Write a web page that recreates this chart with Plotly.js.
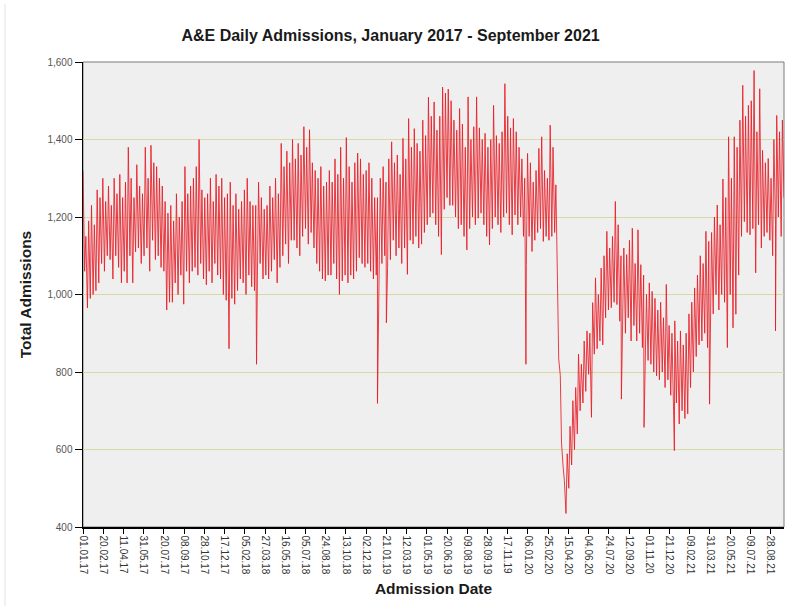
<!DOCTYPE html>
<html>
<head>
<meta charset="utf-8">
<script src="https://cdn.plot.ly/plotly-3.0.1.min.js"></script>
<style>html,body{margin:0;padding:0;background:#fff}#chart{width:812px;height:610px}</style>
</head>
<body>
<div id="chart"></div>
<script>
// Week starts from this date; each week has a peak (start of week) and a trough (4 days later)
const startDate = '2017-01-01';

const weeklyHigh = [
  // 2017
  1320,1150,1190,1230,1180, 1270,1250,1300,1240, 1280,1230,1300,1260, 1310,1250,1290,1380,
  1300,1250,1335,1280,1260, 1380,1300,1385,1340, 1330,1300,1280,1240,1210, 1230,1190,1260,1200,
  1240,1330,1260,1280, 1300,1330,1400,1270,1250, 1260,1300,1240,1310, 1280,1300,1250,1260,
  // 2018
  1290,1230,1260,1220,1240, 1270,1300,1240,1230, 1230,1290,1250,1220, 1230,1280,1250,1300,1260,
  1390,1330,1370,1340, 1400,1350,1390,1360, 1433,1380,1425,1340,1320, 1300,1330,1280,1290,
  1320,1290,1350,1310, 1380,1300,1405,1330,1290, 1340,1365,1350,1310, 1320,1340,1300,1250,
  // 2019
  1250,1300,1330,1290,1350, 1394,1340,1360,1310, 1403,1350,1454,1380, 1428,1390,1370,1450,1410,
  1509,1460,1497,1424, 1460,1535,1520,1530, 1500,1450,1424,1480,1440, 1380,1510,1400,1433,
  1510,1430,1400,1416, 1380,1400,1488,1410,1390, 1420,1544,1460,1430, 1454,1420,1380,1350,
  // 2020
  1300,1364,1340,1290,1320, 1377,1407,1320,1300, 1437,1380,1283,834,617,520, 589,660,726,760,
  846,820,880,906,900, 979,1043,1000,1068, 1100,1163,1120,1150,1240,1180,1100,
  1120,1103,1140,1171,1080,1167,1077,1050, 1000,1030,1008,990,960,980,940,1026,920,900,
  // 2021
  932,880,906,870,900,950, 980,1017,1050,1100,1080,1163,1137, 1160,1200,1231,1180,1298,1250,
  1407,1300,1407,1380, 1450,1540,1460,1488,1500,1578, 1420,1531,1372,1340,1351,1300,
  1400,1462,1420,1450
];

const weeklyLow = [
  // 2017
  1060,965,990,1000,1010, 1030,1080,1060,1100, 1090,1040,1100,1070, 1030,1060,1030,1100,
  1030,1110,1120,1080,1100, 1120,1060,1140,1090, 1100,1070,1060,960,980, 980,1030,1000,1050,
  975,1060,1030,1060, 1070,1050,1080,1040,1025, 1060,1030,1080,1050, 1040,1000,985,980,
  // 2018
  990,975,1010,1040,1030, 1000,1050,1020,1010, 1030,1080,1040,1050, 1040,1060,1090,1030,1070,
  1100,1130,1080,1140, 1140,1120,1100,1150, 1170,1130,1160,1120,1080, 1060,1040,1035,1050,
  1050,1080,1040,1000, 1035,1050,1030,1050,1040, 1060,1095,1080,1070, 1080,1060,1040,1050,
  // 2019
  1050,1080,1100,1070,1090, 1140,1100,1120,1080, 1120,1052,1140,1130, 1150,1120,1130,1160,1180,
  1200,1210,1180,1150, 1103,1220,1250,1230, 1230,1200,1170,1180,1150, 1115,1170,1200,1180,
  1197,1210,1180,1150, 1128,1170,1200,1180,1160, 1200,1210,1180,1154, 1205,1180,1200,1150,
  // 2020
  1077,1150,1111,1140,1160, 1170,1137,1150,1140, 1150,1160,1034,791,555,435, 500,560,600,640,
  700,720,750,794,683, 846,860,880,870, 940,960,966,980,974,931,950,
  900,940,880,920,880,900,863,860, 830,820,800,790,780,800,760,780,740,700,
  // 2021
  720,666,700,680,692,760, 800,840,870,880,900,863,900, 950,1000,960,1000,980,863,
  1000,914,949,1050, 1150,1188,1160,1154,1170,1056, 1180,1120,1150,1160,1140,1100,
  1180,1200,1150,1250
];

// Single-day dips (holidays, snow, etc.)
const dipDates  = ['2017-12-28','2018-03-06','2018-12-30','2019-01-21','2020-01-01','2020-08-24','2020-10-19','2021-01-02','2021-03-30','2021-09-09'];
const dipValues = [860, 820, 719, 927, 820, 730, 657, 597, 717, 906];

const tickDates = ['2017-01-01','2017-02-20','2017-04-11','2017-05-31','2017-07-20','2017-09-08','2017-10-28','2017-12-17',
  '2018-02-05','2018-03-27','2018-05-16','2018-07-05','2018-08-24','2018-10-13','2018-12-02',
  '2019-01-21','2019-03-12','2019-05-01','2019-06-20','2019-08-09','2019-09-28','2019-11-17',
  '2020-01-06','2020-02-25','2020-04-15','2020-06-04','2020-07-24','2020-09-12','2020-11-01','2020-12-21',
  '2021-02-09','2021-03-31','2021-05-20','2021-07-09','2021-08-28'];
const tickLabels = ['01.01.17','20.02.17','11.04.17','31.05.17','20.07.17','08.09.17','28.10.17','17.12.17',
  '05.02.18','27.03.18','16.05.18','05.07.18','24.08.18','13.10.18','02.12.18',
  '21.01.19','12.03.19','01.05.19','20.06.19','09.08.19','28.09.19','17.11.19',
  '06.01.20','25.02.20','15.04.20','04.06.20','24.07.20','12.09.20','01.11.20','21.12.20',
  '09.02.21','31.03.21','20.05.21','09.07.21','28.08.21'];
const yTicks = [400, 600, 800, 1000, 1200, 1400, 1600];

const DAY = 86400000;
const t0 = Date.parse(startDate + 'T00:00:00Z');
const pts = [];
weeklyHigh.forEach((v, i) => pts.push([t0 + 7 * i * DAY, v]));
weeklyLow.forEach((v, i) => pts.push([t0 + (7 * i + 4) * DAY, v]));
dipDates.forEach((d, i) => pts.push([Date.parse(d + 'T00:00:00Z'), dipValues[i]]));
pts.sort((a, b) => a[0] - b[0]);
const xs = pts.map(p => new Date(p[0]).toISOString().slice(0, 10));
const ys = pts.map(p => p[1]);

const FONT = 'Liberation Sans, Arial, sans-serif';

const trace = {
  type: 'scatter', mode: 'lines', x: xs, y: ys,
  line: {color: 'rgba(232,28,38,0.85)', width: 1},
  hoverinfo: 'x+y'
};

const layout = {
  width: 812, height: 610,
  margin: {l: 83, r: 28, t: 62, b: 83},
  paper_bgcolor: '#ffffff',
  plot_bgcolor: '#efefef',
  showlegend: false,
  title: {
    text: 'A&E Daily Admissions, January 2017 - September 2021',
    font: {family: FONT, size: 16, color: '#1a1a1a', weight: 'bold'},
    xref: 'container', x: 0.481, xanchor: 'center',
    yref: 'container', y: 1 - 35 / 610, yanchor: 'middle'
  },
  xaxis: {
    type: 'date',
    range: ['2017-01-01', '2021-09-30'],
    tickmode: 'array', tickvals: tickDates, ticktext: tickLabels,
    tickangle: 90,
    ticks: 'outside', ticklen: 5, tickcolor: '#000', tickwidth: 1,
    tickfont: {family: FONT, size: 10, color: '#333'},
    showgrid: false, zeroline: false,
    showline: true, linecolor: '#000', linewidth: 1.5,
    title: {text: 'Admission Date', font: {family: FONT, size: 15.5, color: '#1a1a1a', weight: 'bold'}, standoff: 9}
  },
  yaxis: {
    range: [400, 1600],
    tickmode: 'array', tickvals: yTicks, ticktext: yTicks.map(v => v.toLocaleString('en-US')),
    ticks: 'outside', ticklen: 7, tickcolor: '#000', tickwidth: 1,
    tickfont: {family: FONT, size: 10, color: '#555'},
    showgrid: true, gridcolor: '#d9d9a6', gridwidth: 1,
    zeroline: false,
    showline: true, linecolor: '#000', linewidth: 1.5,
    title: {text: 'Total Admissions', font: {family: FONT, size: 15.5, color: '#1a1a1a', weight: 'bold'}, standoff: 12}
  },
  shapes: [
    {type: 'rect', xref: 'paper', yref: 'paper', x0: 0, x1: 1, y0: 0, y1: 1,
     line: {color: '#7a7a7a', width: 1}, fillcolor: 'rgba(0,0,0,0)', layer: 'below'},
    {type: 'line', xref: 'paper', yref: 'paper', x0: -78 / 701, x1: -78 / 701, y0: -0.17, y1: 1.125,
     line: {color: '#e2e2e2', width: 1}}
  ]
};

Plotly.newPlot('chart', [trace], layout, {displayModeBar: false, staticPlot: true});
</script>
</body>
</html>
